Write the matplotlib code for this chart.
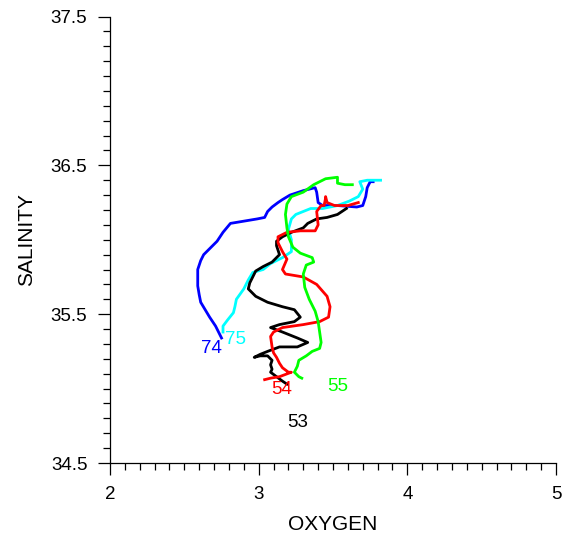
import matplotlib
matplotlib.use("Agg")
import matplotlib.pyplot as plt
from matplotlib.ticker import MultipleLocator

plt.rcParams['font.family'] = ['Liberation Sans', 'DejaVu Sans']

# Oxygen / salinity profiles for each station (deep to shallow)
st74_oxygen = [2.75, 2.71, 2.67, 2.64, 2.61, 2.60, 2.59, 2.59, 2.59, 2.61, 2.63, 2.67,
               2.72, 2.76, 2.81, 2.87, 2.99, 3.04, 3.06, 3.09, 3.13, 3.16, 3.21, 3.30,
               3.38, 3.39, 3.40, 3.43, 3.53, 3.66, 3.70, 3.72, 3.73, 3.75, 3.77]
st74_salinity = [35.34, 35.42, 35.48, 35.53, 35.58, 35.63, 35.69, 35.75, 35.80, 35.86,
                 35.90, 35.94, 35.99, 36.05, 36.11, 36.12, 36.14, 36.15, 36.19, 36.22,
                 36.25, 36.27, 36.30, 36.33, 36.35, 36.32, 36.25, 36.23, 36.23, 36.22,
                 36.23, 36.29, 36.35, 36.39, 36.39]

st75_oxygen = [2.76, 2.76, 2.79, 2.83, 2.84, 2.85, 2.90, 2.93, 2.96, 3.03, 3.08, 3.16,
               3.22, 3.22, 3.20, 3.22, 3.25, 3.30, 3.35, 3.43, 3.53, 3.61, 3.67, 3.70,
               3.68, 3.73, 3.82]
st75_salinity = [35.38, 35.42, 35.46, 35.51, 35.55, 35.60, 35.67, 35.73, 35.78, 35.80,
                 35.84, 35.88, 35.92, 36.00, 36.07, 36.14, 36.17, 36.19, 36.21, 36.21,
                 36.23, 36.26, 36.29, 36.34, 36.39, 36.40, 36.40]

st53_oxygen = [3.19, 3.16, 3.12, 3.08, 3.09, 3.08, 3.09, 3.06, 3.01, 2.97, 3.01, 3.06,
               3.14, 3.26, 3.33, 3.26, 3.16, 3.08, 3.14, 3.24, 3.28, 3.24, 3.16, 3.06,
               2.98, 2.93, 2.94, 2.96, 2.98, 3.03, 3.09, 3.14, 3.12, 3.12, 3.16, 3.22,
               3.30, 3.33, 3.39, 3.46, 3.53, 3.59]
st53_salinity = [35.03, 35.05, 35.08, 35.11, 35.13, 35.16, 35.19, 35.22, 35.22, 35.21,
                 35.23, 35.25, 35.28, 35.28, 35.31, 35.34, 35.38, 35.41, 35.43, 35.45,
                 35.48, 35.53, 35.55, 35.58, 35.62, 35.67, 35.71, 35.75, 35.79, 35.82,
                 35.85, 35.90, 35.96, 35.99, 36.02, 36.05, 36.08, 36.11, 36.14, 36.15,
                 36.17, 36.21]

st54_oxygen = [3.04, 3.08, 3.14, 3.22, 3.20, 3.16, 3.14, 3.12, 3.10, 3.09, 3.08, 3.10,
               3.16, 3.30, 3.41, 3.47, 3.48, 3.46, 3.39, 3.30, 3.18, 3.16, 3.19, 3.16,
               3.13, 3.13, 3.19, 3.28, 3.38, 3.40, 3.39, 3.42, 3.44, 3.45, 3.45, 3.46,
               3.51, 3.60, 3.67]
st54_salinity = [35.06, 35.07, 35.08, 35.11, 35.11, 35.14, 35.17, 35.21, 35.24, 35.28,
                 35.35, 35.38, 35.41, 35.43, 35.45, 35.48, 35.55, 35.62, 35.70, 35.75,
                 35.77, 35.80, 35.87, 35.92, 35.98, 36.02, 36.05, 36.06, 36.06, 36.10,
                 36.19, 36.23, 36.23, 36.28, 36.29, 36.25, 36.23, 36.23, 36.25]

st55_oxygen = [3.29, 3.27, 3.24, 3.26, 3.27, 3.32, 3.36, 3.41, 3.42, 3.41, 3.40, 3.38,
               3.34, 3.31, 3.30, 3.32, 3.37, 3.36, 3.28, 3.23, 3.20, 3.19, 3.18, 3.19,
               3.22, 3.30, 3.37, 3.45, 3.53, 3.53, 3.58, 3.63]
st55_salinity = [35.07, 35.08, 35.11, 35.15, 35.19, 35.22, 35.25, 35.27, 35.31, 35.38,
                 35.45, 35.52, 35.60, 35.68, 35.77, 35.83, 35.85, 35.88, 35.91, 35.95,
                 36.02, 36.08, 36.17, 36.24, 36.29, 36.32, 36.37, 36.41, 36.42, 36.38,
                 36.37, 36.37]

stations = [
    # name, oxygen, salinity, colour, label anchor (oxygen, salinity)
    ("74", st74_oxygen, st74_salinity, "#0000ff", (2.684, 35.267)),
    ("75", st75_oxygen, st75_salinity, "#00ffff", (2.841, 35.329)),
    ("53", st53_oxygen, st53_salinity, "#000000", (3.265, 34.772)),
    ("54", st54_oxygen, st54_salinity, "#ff0000", (3.152, 34.992)),
    ("55", st55_oxygen, st55_salinity, "#00ff00", (3.534, 35.014)),
]

fig = plt.figure(figsize=(5.68, 5.38), dpi=100)
ax = fig.add_axes([0.1937, 0.1394, 0.7852, 0.8299])

for name, ox, sal, col, (lx, ly) in stations:
    ax.plot(ox, sal, color=col, lw=2.0, solid_joinstyle='round')
for name, ox, sal, col, (lx, ly) in stations:
    ax.text(lx, ly, name, color=col, fontsize=13.5, ha='center', va='center')

ax.set_xlim(2, 5)
ax.set_ylim(34.5, 37.5)
ax.xaxis.set_major_locator(MultipleLocator(1))
ax.xaxis.set_minor_locator(MultipleLocator(0.1))
ax.yaxis.set_major_locator(MultipleLocator(1))
ax.yaxis.set_minor_locator(MultipleLocator(0.1))
ax.set_yticks([34.5, 35.5, 36.5, 37.5])
ax.set_yticklabels(["34.5", "35.5", "36.5", "37.5"])

for side in ("top", "right"):
    ax.spines[side].set_visible(False)
for side in ("left", "bottom"):
    ax.spines[side].set_linewidth(0.9)

ax.tick_params(which='major', direction='out', length=8.8, width=0.9,
               labelsize=13.5, pad=7.5)
ax.tick_params(which='minor', direction='out', length=5, width=0.9)

ax.set_xlabel("OXYGEN", fontsize=15, labelpad=9)
ax.set_ylabel("SALINITY", fontsize=15, labelpad=10.5)

fig.savefig("out.png", dpi=100)
